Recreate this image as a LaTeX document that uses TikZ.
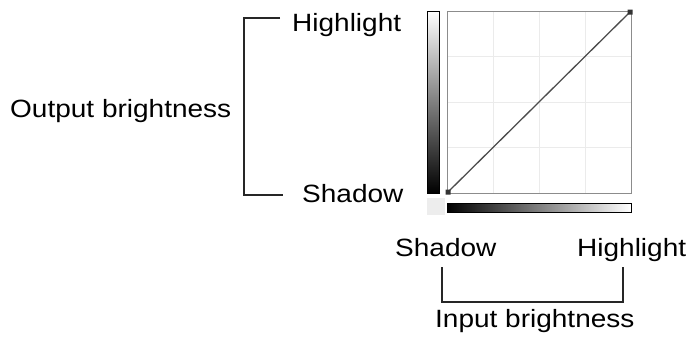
\documentclass[tikz,border=0pt]{standalone}
\usepackage{fontspec}
\setmainfont[FakeStretch=1.12]{Liberation Sans}
\begin{document}
\begin{tikzpicture}[x=1pt,y=-1pt,lbl/.style={inner sep=0,anchor=base west,font=\fontsize{25}{30}\selectfont},brk/.style={black!85,line width=1.2pt}]
\useasboundingbox (0,0) rectangle (688,340);
\foreach \x/\y/\n/\gt in {10/117/out/Output brightness,292/31/hiL/Highlight,302/202/shL/Shadow,395/256/shB/Shadow,577/256/hiB/Highlight,435/327/inp/Input brightness}\path (\x,\y) node[lbl](\n){\gt};
\coordinate (oT) at (280,18); \coordinate (oB) at (283,195);
\coordinate (iL) at (442,267); \coordinate (iR) at (623,267);
\draw[brk] (oT)--++(-36,0) |- (oB);
\draw[brk] (iL)--++(0,35) -| (iR);
\foreach \i in {1,2,3}\draw[black!8,line width=.8pt] (447+46*\i,11)--(447+46*\i,193) (447,11+45.5*\i)--(631,11+45.5*\i);
\draw[black!45,line width=1pt] (447,11) rectangle (631,193);
\fill[black!7] (427,198) rectangle (445,215);
\shade[top color=white,bottom color=black] (427,11) rectangle (439,193);
\draw[line width=.8pt] (427,11) rectangle (439,193);
\shade[left color=black,right color=white] (447,203) rectangle (631,212);
\draw[line width=.8pt] (447,203) rectangle (631,212);
\coordinate (p0) at (448,192); \coordinate (p1) at (630,12);
\draw[black!70,line width=1.3pt] (p0)--(p1);
\fill[black!80] (p0) ++(-2.5,-2.5) rectangle ++(5,5) (p1) ++(-2.5,-2.5) rectangle ++(5,5);
\end{tikzpicture}
\end{document}
